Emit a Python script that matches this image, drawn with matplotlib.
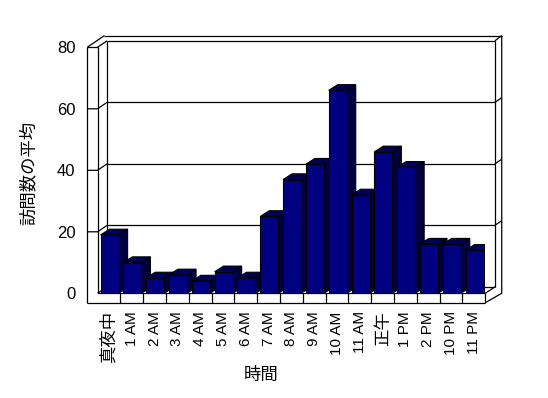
import matplotlib
matplotlib.use('Agg')
import matplotlib.pyplot as plt
from matplotlib.patches import Polygon

categories = ['真夜中', '1 AM', '2 AM', '3 AM', '4 AM', '5 AM', '6 AM', '7 AM', '8 AM',
              '9 AM', '10 AM', '11 AM', '正午', '1 PM', '2 PM', '10 PM', '11 PM']
values = [19, 10, 5, 6, 4, 7, 5, 25, 37, 42, 66, 32, 46, 41, 16, 16, 14]
y_ticks = [0, 20, 40, 60, 80]
x_title = '時間'
y_title = '訪問数の平均'

plt.rcParams['font.family'] = ['Noto Sans CJK JP', 'DejaVu Sans']

W, H = 548, 398
fig = plt.figure(figsize=(W / 100, H / 100), dpi=100, facecolor='white')
ax = fig.add_axes([97.5 / W, 1 - 293.3 / H, 387.8 / W, 246 / H])
n = len(categories)
ymax = y_ticks[-1]
ax.set_xlim(-0.5, n - 0.5)
ax.set_ylim(0, ymax)
ax.patch.set_visible(False)
for s in ax.spines.values():
    s.set_visible(False)

# 3D geometry (data units)
DX, DY = 0.42, 2.1          # wall depth
BDX, BDY = 0.395, 1.85      # bar depth
LW_OUT = -0.95              # left wall outer
FL_BOT = -3.06              # floor bottom
TOP_OUT = 83.8              # outer top
R_OUT = 17.22               # right wall outer
L = -0.5
R = n - 0.5

lc = dict(color='black', lw=0.9, clip_on=False, solid_capstyle='butt')

def line(xs, ys, z=3):
    ax.plot(xs, ys, zorder=z, **lc)

# back wall gridlines and edges
for yt in y_ticks[1:-1]:
    line([L + DX, R + DX], [yt + DY, yt + DY], z=2)
    line([LW_OUT, L, L + DX], [yt, yt, yt + DY], z=2)
    line([R + DX, R_OUT], [yt + DY, yt + DY + 1.5], z=2)
line([L + DX, R + DX], [DY, DY], z=2)
line([L, L + DX], [0, DY], z=2)
line([L + DX, R + DX], [ymax + DY, ymax + DY])
line([L + DX, L + DX], [DY, ymax + DY])
line([R + DX, R + DX], [DY, ymax + DY])
line([R, R + DX], [0, DY])
# left wall
line([LW_OUT, LW_OUT], [FL_BOT, ymax])
line([L, L], [0, ymax])
line([LW_OUT, L], [ymax, ymax])
line([LW_OUT, -0.2], [ymax, TOP_OUT])
line([L, L + DX], [ymax, ymax + DY])
# top and right outer
line([-0.2, R_OUT], [TOP_OUT, TOP_OUT])
line([R + DX, R_OUT], [ymax + DY, TOP_OUT])
line([R_OUT, R_OUT, R], [TOP_OUT, 0, FL_BOT])
# floor front face
line([LW_OUT, R], [FL_BOT, FL_BOT])
line([L, R], [0, 0])
for k in range(1, n + 1):
    line([k - 0.5, k - 0.5], [0, FL_BOT])

# bars
front_c, top_c, side_c = '#000080', '#000058', '#00003e'
xs = [i + 0.03 for i in range(n)]
bars = ax.bar(xs, values, width=0.79, color=front_c, edgecolor='black', linewidth=0.8)
for i, (b, v) in enumerate(zip(bars, values)):
    x0 = b.get_x()
    x1 = x0 + b.get_width()
    b.set_zorder(10 + i + 0.5)
    top = Polygon([(x0, v), (x1, v), (x1 + BDX, v + BDY), (x0 + BDX, v + BDY)],
                  closed=True, facecolor=top_c, edgecolor='black', lw=0.8, zorder=10 + i)
    side = Polygon([(x1, 0), (x1, v), (x1 + BDX, v + BDY), (x1 + BDX, BDY)],
                   closed=True, facecolor=side_c, edgecolor='black', lw=0.8, zorder=10 + i)
    ax.add_patch(side)
    ax.add_patch(top)

ax.set_xticks(range(n))
ax.set_xticklabels(categories, rotation=90, family=['Liberation Sans', 'Noto Sans CJK JP'],
                   fontsize=11)
for t in ax.get_xticklabels():
    if not any(c.isascii() for c in t.get_text()):
        t.set_fontsize(12.5)
        t.set_family(['Noto Sans CJK JP'])
ax.set_yticks(y_ticks)
ax.set_yticklabels([str(v) for v in y_ticks], family='Liberation Sans', fontsize=12)
ax.tick_params(axis='both', length=0)
ax.tick_params(axis='y', pad=16)
ax.tick_params(axis='x', pad=13)

fig.text(261.5 / W, 1 - 375 / H, x_title, ha='center', va='center', fontsize=12.5)
fig.text(29 / W, 1 - 173 / H, y_title, ha='center', va='center', rotation=90, fontsize=12.5)

fig.savefig('out.png', dpi=100, facecolor='white')
